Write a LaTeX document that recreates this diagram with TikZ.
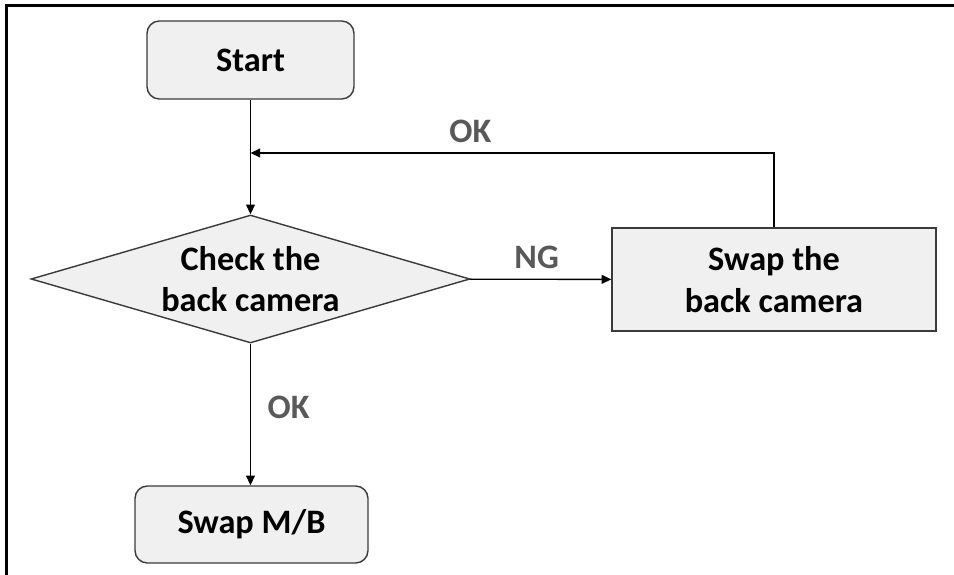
\documentclass[tikz,border=0pt]{standalone}
\usepackage{fontspec}
\setmainfont{Carlito}
\usepackage{tikz}
\usetikzlibrary{arrows.meta,shapes.geometric}
\definecolor{boxCol}{HTML}{F0F0F0}
\definecolor{boxEdge}{HTML}{3A3A3A}
\definecolor{lblCol}{HTML}{595959}
\tikzset{
  fterm/.style={draw=boxEdge, fill=boxCol, rounded corners=7pt, align=center,
        font=\fontsize{19.5}{23.5}\selectfont\bfseries, line width=0.8pt, inner sep=0pt},
  fproc/.style={draw=boxEdge, fill=boxCol, align=center,
        font=\fontsize{19.5}{23.5}\selectfont\bfseries, line width=0.8pt, inner sep=0pt},
  fdec/.style={draw=boxEdge, fill=boxCol, diamond, aspect=3.43, align=center,
        font=\fontsize{19.5}{23.5}\selectfont\bfseries, line width=0.8pt, inner sep=0pt},
  flow/.style={-{Triangle[length=5.5pt,width=5pt]}, line width=0.8pt},
  elab/.style={font=\fontsize{19.5}{23.5}\selectfont\bfseries, text=lblCol, inner sep=0pt},
}

\begin{document}
\begin{tikzpicture}[x=0.02cm, y=-0.02cm]
  \useasboundingbox (0,0) rectangle (954,575);
  % frame (top and left edge only)
  \draw[line width=1.7pt] (6.5,575) -- (6.5,5.5) -- (954,5.5);
  \node[fterm, minimum width=4.14cm, minimum height=1.56cm] (s0) at (250.5,60) {Start};
  \node[fdec, minimum width=8.78cm, minimum height=2.56cm] (d1) at (250.5,279) {Check the\\back camera};
  \node[fproc, minimum width=6.48cm, minimum height=2.06cm] (sw) at (774,279.5) {Swap the\\back camera};
  \node[fterm, minimum width=4.66cm, minimum height=1.54cm] (mb) at (251.5,524.5) {Swap M/B};
  \coordinate (join) at (250.5,153);
  % edges
  \draw[flow] (s0) -- (d1);
  \draw[flow] (d1) -- (sw) node[elab, midway, above=0.2cm, xshift=-0.08cm] {NG};
  \draw[flow] (sw.north) |- (join) node[elab, pos=0.79, above=0.2cm] {OK};
  \draw[flow] (d1.south) -- (d1.south |- mb.north) node[elab, pos=0.45, right=0.33cm] {OK};
\end{tikzpicture}
\end{document}
